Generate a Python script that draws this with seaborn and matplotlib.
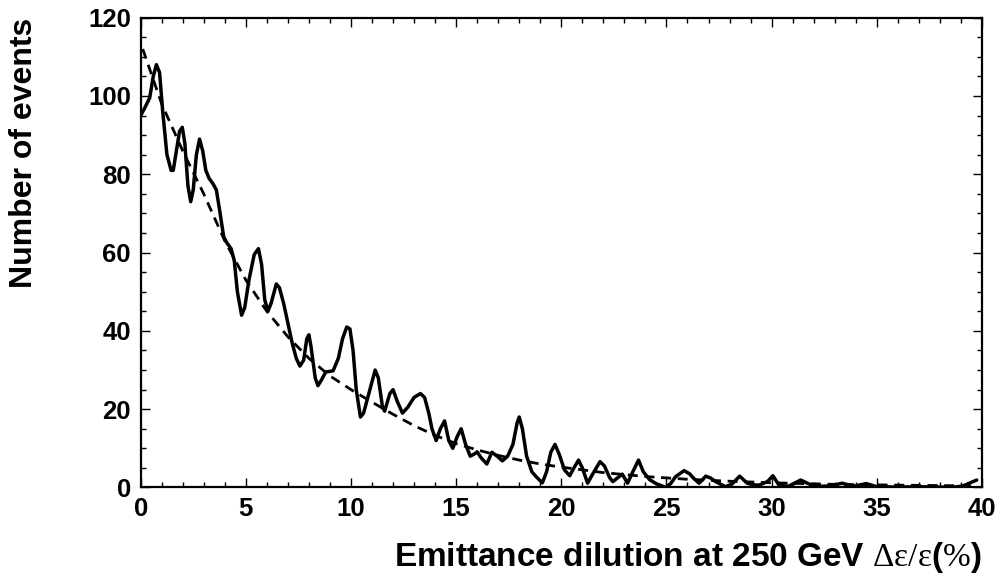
import numpy as np
import pandas as pd
import matplotlib
matplotlib.use("Agg")
import matplotlib.pyplot as plt
from matplotlib.ticker import MultipleLocator
import seaborn as sns

# Smoothed event distribution (solid curve)
dilution_x = [0.0, 0.2, 0.43, 0.6, 0.75, 0.9, 1.05, 1.25, 1.45, 1.55, 1.7, 1.85, 1.98, 2.1, 2.25,
              2.38, 2.5, 2.65, 2.8, 2.95, 3.1, 3.25, 3.45, 3.6, 3.75, 3.95, 4.1, 4.3, 4.45, 4.6,
              4.8, 4.95, 5.15, 5.4, 5.6, 5.75, 5.9, 6.05, 6.2, 6.45, 6.6, 6.8, 7.0, 7.2, 7.4,
              7.57, 7.75, 7.9, 8.0, 8.1, 8.3, 8.43, 8.6, 8.8, 9.15, 9.4, 9.6, 9.8, 9.95, 10.1,
              10.25, 10.45, 10.6, 10.9, 11.15, 11.3, 11.5, 11.6, 11.85, 12.0, 12.2, 12.45, 12.7,
              13.0, 13.3, 13.5, 13.7, 13.85, 14.05, 14.25, 14.45, 14.65, 14.84, 15.05, 15.24,
              15.45, 15.67, 15.85, 16.0, 16.2, 16.46, 16.7, 16.95, 17.2, 17.45, 17.7, 17.9, 18.0,
              18.15, 18.35, 18.6, 18.85, 19.1, 19.3, 19.5, 19.7, 19.9, 20.15, 20.4, 20.6, 20.82,
              21.0, 21.25, 21.5, 21.84, 22.05, 22.3, 22.45, 22.9, 23.15, 23.4, 23.67, 23.9, 24.2,
              24.5, 24.97, 25.2, 25.44, 25.84, 26.1, 26.3, 26.55, 26.87, 27.1, 27.34, 27.8, 28.1,
              28.48, 28.84, 29.1, 29.4, 29.8, 30.06, 30.35, 30.8, 31.38, 31.9, 32.3, 32.8, 33.35,
              33.9, 34.5, 35.0, 36.0, 37.0, 38.0, 38.7, 39.1, 39.75]
events = [95, 97, 99.5, 105, 108, 106, 96, 85, 81, 81, 86, 91, 92, 88, 77,
          73, 76, 85, 89, 86, 81, 79, 77.5, 76, 71, 64, 62.5, 61, 58, 50,
          44, 46, 53, 59.5, 61, 57, 48, 45, 47, 52, 51, 47, 42, 37, 33,
          31, 32.5, 38, 39, 36, 28, 26, 27.5, 29.5, 29.8, 33, 38, 41, 40.5, 35,
          25, 18, 19, 25, 30, 28, 20.5, 19.5, 24, 25, 22, 19, 20.5,
          23, 24, 23, 19, 15, 12, 15, 17, 12, 10, 13, 15,
          11, 8, 8.5, 9.1, 7.5, 6, 9, 8, 6.8, 8, 11, 16.5, 18,
          15, 8, 4, 2.5, 1.2, 4, 9, 11, 8.5, 4.5, 3, 5, 7,
          5, 1.1, 3.5, 6.6, 5.5, 2.5, 1.5, 3.4, 1.1, 4, 7, 4, 2,
          1, 0, 1, 2.8, 4.3, 3.5, 2.3, 1.1, 2.9, 2.4, 1.5, 0.2, 0.8,
          2.9, 1.1, 0.7, 0.6, 1.5, 3.0, 0.6, 0.3, 1.9, 0.6, 0.3, 0.4, 1.1,
          0.3, 1.0, 0.2, 0.1, 0.2, 0.1, 0.1, 0.4, 1.9]

# Exponential fit (dashed curve)
fit_x = [0.1, 1, 2, 3, 4, 5, 6, 7, 8, 9, 10, 11, 12, 13, 14, 15, 16, 17, 18, 19, 20,
         22, 24, 26, 28, 30, 33, 36, 39.7]
fit_y = [112, 98, 86, 75, 63, 53, 45, 38.5, 33, 28.5, 25, 21.8, 18.7, 15.8, 13.3, 11.2, 9.6,
         8.2, 7.0, 6.0, 5.2, 3.8, 2.8, 2.1, 1.6, 1.2, 0.8, 0.6, 0.4]

x_ticks = [0, 5, 10, 15, 20, 25, 30, 35, 40]
y_ticks = [0, 20, 40, 60, 80, 100, 120]

sns.set_theme(style="ticks")
plt.rcParams["font.family"] = ["Liberation Sans", "DejaVu Sans"]
plt.rcParams["mathtext.fontset"] = "custom"
plt.rcParams["mathtext.rm"] = "Liberation Serif"
plt.rcParams["mathtext.it"] = "Liberation Serif"
plt.rcParams["mathtext.bf"] = "Liberation Serif:bold"
plt.rcParams["text.color"] = "black"
plt.rcParams["axes.labelcolor"] = "black"
plt.rcParams["xtick.color"] = "black"
plt.rcParams["ytick.color"] = "black"

fig = plt.figure(figsize=(10.06, 5.82), dpi=100)
ax = fig.add_axes([0.1398, 0.1624, 0.8363, 0.8072])

df_data = pd.DataFrame({"x": dilution_x, "y": events})
df_fit = pd.DataFrame({"x": fit_x, "y": fit_y})

sns.lineplot(data=df_data, x="x", y="y", color="black", linewidth=2.5, ax=ax,
             sort=False, estimator=None, solid_joinstyle="round")
sns.lineplot(data=df_fit, x="x", y="y", color="black", linewidth=2.0, ax=ax,
             linestyle=(0, (3.6, 2.4)), sort=False, estimator=None)

ax.set_xlim(0, 40)
ax.set_ylim(0, 120)
ax.set_xticks(x_ticks)
ax.set_yticks(y_ticks)
ax.xaxis.set_minor_locator(MultipleLocator(1))
ax.yaxis.set_minor_locator(MultipleLocator(5))
ax.tick_params(which="both", direction="in", top=True, right=True, width=1.0,
               colors="black", labelcolor="black")
ax.tick_params(which="major", length=6.5, labelsize=18.5, pad=7)
ax.tick_params(which="minor", length=3.6)
for lab in ax.get_xticklabels() + ax.get_yticklabels():
    lab.set_fontweight("bold")
for sp in ax.spines.values():
    sp.set_linewidth(1.6)
    sp.set_color("black")

ax.set_xlabel(r"Emittance dilution at 250 GeV $\Delta\varepsilon/\varepsilon$($\%$)",
              fontsize=24, fontweight="bold", loc="right", color="black")
ax.xaxis.set_label_coords(1.0, -0.112)
ax.set_ylabel("Number of events", fontsize=23, fontweight="bold", loc="top", color="black")
ax.yaxis.set_label_coords(-0.121, 1.0)

fig.savefig("out.png", dpi=100)
